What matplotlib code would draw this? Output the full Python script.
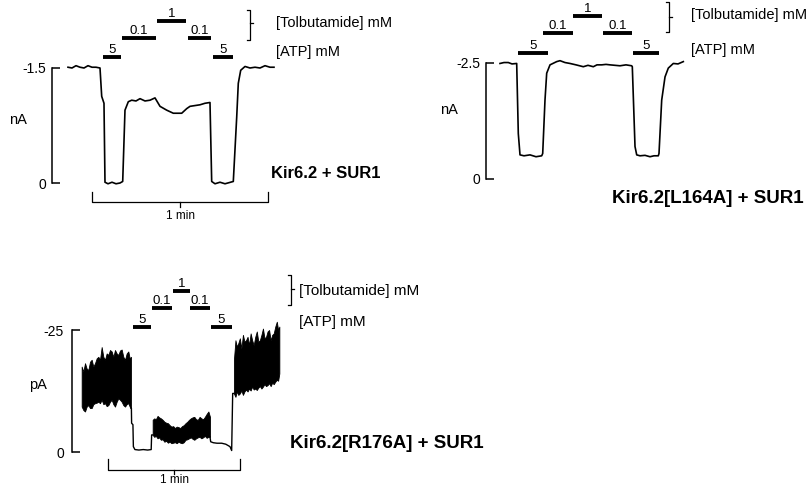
import matplotlib
matplotlib.use("Agg")
import matplotlib.pyplot as plt
from matplotlib.lines import Line2D

plt.rcParams["font.family"] = ["Liberation Sans", "DejaVu Sans"]

W, H = 809, 486

# ---- panel 1: Kir6.2 + SUR1, whole-cell current (s, nA) ----
p1_t = [0.0, 1.36, 2.73, 4.09, 5.46, 6.82, 8.18, 9.55, 10.91, 11.49, 12.27, 12.61,
        13.64, 15.0, 16.37, 17.73, 18.65, 19.43, 20.56, 21.72, 23.18, 24.55, 26.25,
        27.96, 29.66, 31.37, 33.65, 35.9, 38.77, 40.47, 41.6, 45.0, 46.71, 48.41,
        48.99, 50.12, 51.82, 53.53, 56.36, 57.52, 58.06, 58.88, 60.35, 62.05, 63.76,
        65.46, 67.17, 68.87, 70.23]
p1_i = [-1.51, -1.50, -1.53, -1.51, -1.50, -1.53, -1.51, -1.51, -1.50, -1.13, -1.04, -0.01,
        0.01, -0.01, 0.01, 0.0, -0.02, -0.95, -1.06, -1.08, -1.07, -1.10, -1.07,
        -1.08, -1.11, -1.00, -0.95, -0.91, -0.91, -0.97, -1.00, -1.02, -1.04, -1.05,
        -0.02, 0.01, -0.01, 0.01, -0.02, -0.86, -1.30, -1.47, -1.52, -1.50, -1.51,
        -1.50, -1.53, -1.51, -1.51]
p1_bar_start = [11.9, 18.4, 30.3, 40.9, 49.4]
p1_bar_end = [18.1, 30.0, 40.2, 48.8, 56.3]
p1_bar_conc = ["5", "0.1", "1", "0.1", "5"]

# ---- panel 2: Kir6.2[L164A] + SUR1 (s, nA) ----
p2_t = [0.0, 1.36, 2.83, 4.09, 5.69, 6.24, 6.82, 8.18, 10.23, 12.27, 14.22, 14.56,
        15.34, 15.92, 17.05, 19.33, 20.46, 22.16, 23.87, 25.91, 28.4, 30.0, 31.81,
        33.07, 34.67, 36.14, 37.5, 39.21, 40.91, 42.96, 44.9, 45.11, 46.03, 46.61,
        47.73, 49.44, 51.14, 52.5, 53.97, 54.21, 55.13, 56.26, 57.38, 59.09, 60.69,
        62.5]
p2_i = [-2.49, -2.51, -2.51, -2.48, -2.49, -0.98, -0.52, -0.50, -0.52, -0.48, -0.50, -0.55,
        -1.70, -2.28, -2.46, -2.53, -2.55, -2.51, -2.49, -2.46, -2.42, -2.45, -2.42,
        -2.46, -2.46, -2.47, -2.46, -2.45, -2.44, -2.46, -2.44, -2.42, -0.70, -0.52,
        -0.50, -0.51, -0.48, -0.50, -0.50, -0.55, -1.70, -2.20, -2.39, -2.49, -2.48,
        -2.53]
p2_bar_start = [6.1, 14.7, 24.9, 35.1, 45.4]
p2_bar_end = [16.4, 24.9, 34.8, 45.0, 54.2]
p2_bar_conc = ["5", "0.1", "1", "0.1", "5"]

# ---- panel 3: Kir6.2[R176A] + SUR1, patch current (s, pA) ----
# noisy stretches given as lower / upper envelope
p3_a_t = [0.0, 0.76, 1.52, 2.27, 3.03, 3.79, 4.55, 5.3, 6.06, 6.82, 7.58, 8.33, 9.09,
          9.85, 10.61, 11.36, 12.12, 12.88, 13.64, 14.39, 15.15, 15.91, 16.67, 17.42,
          18.18, 18.94, 19.7, 20.45, 21.21, 21.82, 22.42]
p3_a_hi = [-17.5, -16.5, -18.2, -17.1, -16.8, -18.5, -18.9, -17.5, -18.2, -19.2, -19.5,
           -18.9, -21.5, -19.5, -18.9, -20.2, -19.9, -20.9, -20.6, -19.5, -20.9, -20.2,
           -19.9, -20.8, -21.0, -19.5, -18.9, -20.2, -20.6, -19.2, -19.5]
p3_a_lo = [-9.3, -8.6, -8.3, -9.3, -9.6, -9.0, -9.0, -9.8, -10.0, -10.1, -10.3, -10.0,
           -10.7, -9.8, -10.0, -9.4, -9.6, -10.3, -10.7, -9.8, -9.3, -10.3, -11.0, -10.7,
           -10.3, -9.6, -9.3, -9.8, -10.0, -9.3, -9.0]

p3_c_t = [32.27, 33.0, 33.7, 34.5, 35.2, 36.0, 36.8, 37.6, 38.4, 39.2, 40.0, 40.8, 41.6,
          42.4, 43.2, 44.0, 44.8, 45.6, 46.4, 47.2, 48.0, 48.8, 49.6, 50.4, 51.2, 52.0,
          52.8, 53.6, 54.4, 55.2, 56.0, 56.8, 57.6, 58.33]
p3_c_hi = [-6.6, -6.9, -6.7, -7.4, -7.1, -6.9, -6.6, -6.2, -6.0, -5.9, -5.5, -5.2, -5.3,
           -4.9, -5.2, -5.1, -4.9, -5.3, -5.5, -5.9, -6.2, -6.6, -6.9, -7.1, -7.2, -6.7,
           -6.6, -7.2, -6.9, -6.7, -7.2, -7.8, -8.3, -7.2]
p3_c_lo = [-3.5, -3.1, -3.3, -2.8, -3.0, -2.5, -2.6, -2.1, -2.3, -1.9, -2.1, -1.8, -1.9,
           -2.0, -1.8, -2.1, -1.9, -1.8, -2.0, -2.5, -2.6, -2.8, -3.0, -2.7, -2.5, -2.8,
           -3.0, -3.1, -2.8, -3.0, -3.3, -2.9, -3.1, -3.1]

p3_e_t = [69.2, 69.9, 70.5, 71.2, 71.9, 72.6, 73.3, 74.0, 74.7, 75.4, 76.1, 76.8, 77.5,
          78.2, 78.9, 79.6, 80.3, 81.0, 81.7, 82.4, 83.1, 83.8, 84.5, 85.2, 85.9, 86.6,
          87.3, 88.0, 88.7, 89.3, 89.85]
p3_e_hi = [-18.9, -22.9, -21.6, -22.3, -23.3, -21.2, -24.0, -22.6, -22.9, -23.6, -21.9,
           -24.3, -22.9, -21.9, -23.6, -24.7, -22.6, -22.9, -24.0, -25.3, -23.3, -23.6,
           -24.7, -25.0, -22.9, -24.0, -24.3, -25.7, -26.7, -25.0, -25.7]
p3_e_lo = [-12.0, -11.3, -12.4, -11.7, -12.0, -12.6, -11.7, -12.4, -12.8, -12.4, -13.0,
           -12.6, -13.4, -12.8, -13.0, -12.7, -13.2, -13.5, -13.0, -13.4, -13.9, -13.5,
           -13.7, -14.1, -13.5, -14.2, -13.9, -14.4, -14.8, -14.6, -16.1]

# quiet stretches (channels closed by ATP)
p3_b_t = [22.42, 22.6, 22.7, 23.3, 23.5, 24.2, 26.0, 28.0, 30.0, 31.6, 31.8, 32.27]
p3_b_i = [-9.0, -9.0, -5.9, -5.6, -1.1, -0.5, -0.4, -0.5, -0.4, -0.5, -3.5, -3.5]
p3_d_t = [58.33, 58.64, 59.85, 61.5, 63.64, 65.5, 67.42, 68.18, 68.64, 69.2]
p3_d_i = [-3.1, -2.1, -1.9, -1.8, -1.8, -1.6, -1.1, -0.3, -12.0, -12.0]

p3_bar_start = [23.2, 31.8, 41.4, 49.2, 58.8]
p3_bar_end = [31.5, 41.2, 49.2, 58.3, 68.2]
p3_bar_conc = ["5", "0.1", "1", "0.1", "5"]

TIER = {"5": 0, "0.1": 1, "1": 2}

fig = plt.figure(figsize=(W / 100, H / 100), dpi=100)


def fx(x):
    return x / W


def fy(y):
    return 1 - y / H


def make_panel(box, x_t0, px_per_s, y_zero, px_per_unit, full, labels, pad):
    x0, y0, x1, y1 = box
    ax = fig.add_axes([fx(x0), fy(y1), (x1 - x0) / W, (y1 - y0) / H])
    ax.set_xlim((x0 - x_t0) / px_per_s, (x1 - x_t0) / px_per_s)
    ax.set_ylim((y1 - y_zero) / px_per_unit, (y0 - y_zero) / px_per_unit)
    for s in ["top", "right", "bottom"]:
        ax.spines[s].set_visible(False)
    ax.patch.set_visible(False)
    ax.set_xticks([])
    ax.spines["left"].set_bounds(full, 0)
    ax.spines["left"].set_linewidth(1.1)
    ax.set_yticks([full, 0])
    ax.set_yticklabels(labels)
    ax.tick_params(axis="y", direction="in", length=6, width=1.1, pad=pad, labelsize=10)

    def to_i(y):
        return (y - y_zero) / px_per_unit
    return ax, to_i


def draw_bars(ax, to_i, starts, ends, concs, tier_px):
    for s, e, c in zip(starts, ends, concs):
        y = to_i(tier_px[TIER[c]])
        ax.plot([s, e], [y, y], color="k", lw=2.8, solid_capstyle="butt", clip_on=False)
        ax.annotate(c, ((s + e) / 2, y), xytext=(0, 1.0), textcoords="offset points",
                    ha="center", va="bottom", fontsize=9.5)


def draw_minute(ax, to_i, t0, y_bar, y_tick, y_mid, y_text):
    t1 = t0 + 60
    yb, yt = to_i(y_bar), to_i(y_tick)
    ax.plot([t0, t0, t1, t1], [yt, yb, yb, yt], color="k", lw=0.9, clip_on=False)
    ax.plot([(t0 + t1) / 2] * 2, [yb, to_i(y_mid)], color="k", lw=0.9, clip_on=False)
    ax.text((t0 + t1) / 2, to_i(y_text), "1 min", ha="center", va="center", fontsize=8.5)


def draw_brace(x, y0, y1, ym):
    kw = dict(color="k", lw=0.9, transform=fig.transFigure)
    fig.add_artist(Line2D([fx(x - 3), fx(x), fx(x), fx(x - 3)], [fy(y0), fy(y0), fy(y1), fy(y1)], **kw))
    fig.add_artist(Line2D([fx(x), fx(x + 3)], [fy(ym), fy(ym)], **kw))


def labels(xt, yt, ya, size, xtitle, ytitle, title, tsize, xu, yu, unit):
    fig.text(fx(xt), fy(yt), "[Tolbutamide] mM", va="center", fontsize=size)
    fig.text(fx(xt), fy(ya), "[ATP] mM", va="center", fontsize=size)
    fig.text(fx(xtitle), fy(ytitle), title, va="center", fontsize=tsize, fontweight="bold")
    fig.text(fx(xu), fy(yu), unit, ha="center", va="center", fontsize=10.5)


# panel 1
ax1, i1 = make_panel((51.7, 5, 285, 212), 68, 2.933, 183, 76.67, -1.5, ["-1.5", "0"], 4)
ax1.plot(p1_t, p1_i, color="k", lw=1.2, clip_on=False)
draw_bars(ax1, i1, p1_bar_start, p1_bar_end, p1_bar_conc, [57, 38, 21])
draw_minute(ax1, i1, 8.2, 201.5, 191.5, 206.5, 216)
draw_brace(250, 10, 40, 23)
labels(276, 22.5, 52, 10.5, 271, 173.5, "Kir6.2 + SUR1", 12, 18, 120, "nA")

# panel 2
ax2, i2 = make_panel((485.7, 0, 700, 206), 500, 2.933, 179, 46.4, -2.5, ["-2.5", "0"], 4)
ax2.plot(p2_t, p2_i, color="k", lw=1.2, clip_on=False)
draw_bars(ax2, i2, p2_bar_start, p2_bar_end, p2_bar_conc, [53, 33, 16])
draw_brace(669, 2, 32, 17)
labels(691, 15, 50, 10.5, 612, 198.5, "Kir6.2[L164A] + SUR1", 13.5, 449, 110, "nA")

# panel 3
ax3, i3 = make_panel((72.3, 265, 300, 478), 81.67, 2.2, 452, 4.88, -25, ["-25", "0"], 6)
for tt, lo, hi in [(p3_a_t, p3_a_lo, p3_a_hi), (p3_c_t, p3_c_lo, p3_c_hi), (p3_e_t, p3_e_lo, p3_e_hi)]:
    ax3.fill_between(tt, lo, hi, color="k", lw=0.6)
ax3.plot(p3_b_t, p3_b_i, color="k", lw=1.0)
ax3.plot(p3_d_t, p3_d_i, color="k", lw=1.0)
draw_bars(ax3, i3, p3_bar_start, p3_bar_end, p3_bar_conc, [327, 308, 291])
draw_minute(ax3, i3, 12.1, 470, 459, 474, 479.5)
draw_brace(291, 275, 305, 289)
labels(299, 291, 322, 11, 290, 443, "Kir6.2[R176A] + SUR1", 13.5, 37.5, 385, "pA")

fig.savefig("out.png", dpi=100)
